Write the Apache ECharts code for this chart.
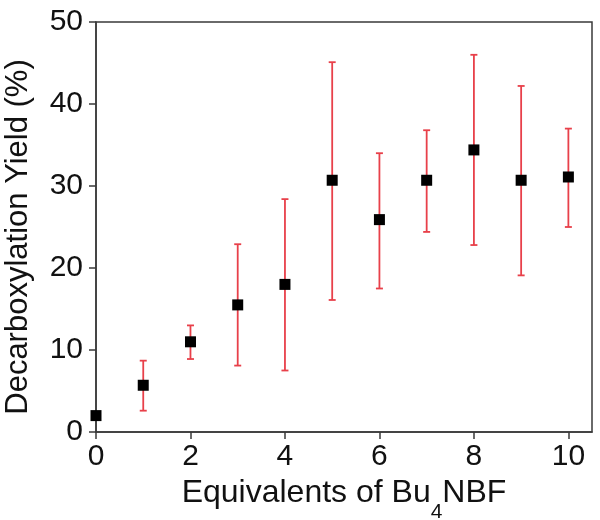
<!DOCTYPE html>
<html>
<head>
<meta charset='utf-8'>
<title>Decarboxylation yield</title>
<script src='https://cdn.jsdelivr.net/npm/echarts@6/dist/echarts.min.js'></script>
</head>
<body style='margin:0'>
<div id='main' style='width:600px;height:520px;'></div>
<script type='text/javascript'>
// equivalents of Bu4NBF and measured yields (%)
var equivalents = [0, 1, 2, 3, 4, 5, 6, 7, 8, 9, 10];
var yields = [2.0, 5.7, 11.0, 15.5, 18.0, 30.7, 25.9, 30.7, 34.4, 30.7, 31.1];
var errLow = [null, 2.6, 8.9, 8.1, 7.5, 16.1, 17.5, 24.4, 22.8, 19.1, 25.0];
var errHigh = [null, 8.7, 13.0, 22.9, 28.4, 45.1, 34.0, 36.8, 46.0, 42.2, 37.0];
var xTicks = [0, 2, 4, 6, 8, 10];

var font = 'Liberation Sans';
var axisColor = '#3a3a3a';
var barColor = '#e8404a';

var errData = [];
var pointData = [];
for (var i = 0; i < equivalents.length; i++) {
    pointData.push([equivalents[i], yields[i]]);
    if (errLow[i] != null) errData.push([equivalents[i], errLow[i], errHigh[i]]);
}

var myChart = echarts.init(document.getElementById('main'));

var option = {
    animation: false,
    textStyle: { fontFamily: font },
    grid: { left: 96, top: 22, right: 8, bottom: 88, containLabel: false, outerBoundsMode: 'none',
        show: true, borderColor: axisColor, borderWidth: 1.5 },
    xAxis: {
        type: 'value',
        min: 0, max: 10.5, interval: 2,
        name: '{a|Equivalents of Bu}{s|4}{a|NBF}',
        nameLocation: 'middle',
        nameGap: 31,
        nameTextStyle: {
            rich: {
                a: { fontSize: 32, color: '#111', fontFamily: font },
                s: { fontSize: 21, color: '#111', fontFamily: font, padding: [38, 0, 0, 0] }
            }
        },
        axisLine: { onZero: false, lineStyle: { color: axisColor, width: 1.5 } },
        axisTick: { show: true, length: 7, inside: false, lineStyle: { color: axisColor, width: 1.5 },
            customValues: xTicks },
        axisLabel: { fontSize: 30, color: '#111', margin: 10, customValues: xTicks,
            formatter: function (v) { return v; } },
        splitLine: { show: false }
    },
    yAxis: {
        type: 'value',
        min: 0, max: 50, interval: 10,
        name: 'Decarboxylation Yield (%)',
        nameLocation: 'middle',
        nameGap: 62,
        nameTextStyle: { fontSize: 31, color: '#111', padding: [0, 20, 0, 0] },
        axisLine: { onZero: false, lineStyle: { color: axisColor, width: 1.5 } },
        axisTick: { show: true, length: 7, inside: false, lineStyle: { color: axisColor, width: 1.5 } },
        axisLabel: { fontSize: 30, color: '#111', margin: 13 },
        splitLine: { show: false }
    },
    series: [
        {
            type: 'custom',
            data: errData,
            renderItem: function (params, api) {
                var x = api.value(0);
                var lo = api.coord([x, api.value(1)]);
                var hi = api.coord([x, api.value(2)]);
                var cap = 3.5;
                var style = { stroke: barColor, lineWidth: 1.8 };
                return {
                    type: 'group',
                    children: [
                        { type: 'line', shape: { x1: lo[0], y1: lo[1], x2: hi[0], y2: hi[1] }, style: style },
                        { type: 'line', shape: { x1: lo[0] - cap, y1: lo[1], x2: lo[0] + cap, y2: lo[1] }, style: style },
                        { type: 'line', shape: { x1: hi[0] - cap, y1: hi[1], x2: hi[0] + cap, y2: hi[1] }, style: style }
                    ]
                };
            },
            z: 2
        },
        {
            type: 'scatter',
            data: pointData,
            symbol: 'rect',
            symbolSize: 11,
            itemStyle: { color: '#000', opacity: 1 },
            z: 3
        }
    ]
};

myChart.setOption(option);
</script>
</body>
</html>
